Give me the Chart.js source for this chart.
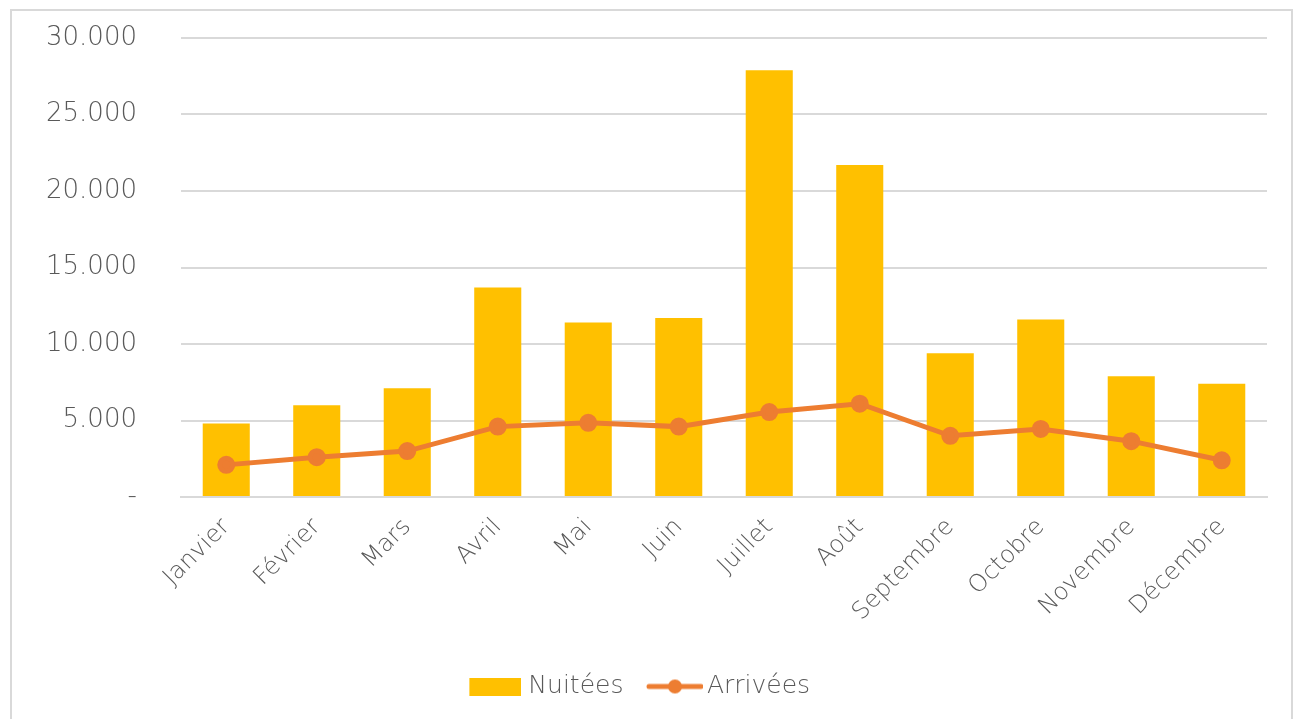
<!DOCTYPE html>
<html>
<head>
<meta charset="utf-8">
<script src="https://cdn.jsdelivr.net/npm/chart.js@4.4.1/dist/chart.umd.min.js"></script>
<style>
  html, body { margin: 0; padding: 0; background: #fff; }
  #frame { position: absolute; left: 10px; top: 9px; width: 1283px; height: 720px; border: 2px solid #d9d9d9; box-sizing: border-box; }
  #wrap { position: absolute; left: 0; top: 0; width: 1296px; height: 719px; }
</style>
</head>
<body>
<div id="frame"></div>
<div id="wrap"><canvas id="chart"></canvas></div>
<script>
// months
const months = ['Janvier', 'Février', 'Mars', 'Avril', 'Mai', 'Juin', 'Juillet', 'Août', 'Septembre', 'Octobre', 'Novembre', 'Décembre'];
// nights (bars)
const nuitees = [4800, 6000, 7100, 13700, 11400, 11700, 27900, 21700, 9400, 11600, 7900, 7400];
// arrivals (line)
const arrivees = [2100, 2600, 3000, 4600, 4850, 4600, 5550, 6100, 4000, 4450, 3650, 2400];

const textColor = '#595959';
const fontFamily = '"DejaVu Sans", sans-serif';

// legend icons (transparent margin on the left so they sit close to their text)
const barIcon = document.createElement('canvas');
barIcon.width = 70; barIcon.height = 18;
let c = barIcon.getContext('2d');
c.fillStyle = '#FFC000';
c.fillRect(18, 0, 52, 18);

const lineIcon = document.createElement('canvas');
lineIcon.width = 76; lineIcon.height = 16;
c = lineIcon.getContext('2d');
c.strokeStyle = '#ED7D31';
c.lineWidth = 5;
c.lineCap = 'round';
c.beginPath(); c.moveTo(22, 8); c.lineTo(74, 8); c.stroke();
c.fillStyle = '#ED7D31';
c.beginPath(); c.arc(48, 8, 7, 0, Math.PI * 2); c.fill();

new Chart(document.getElementById('chart'), {
    data: {
        labels: months,
        datasets: [
            {
                type: 'line',
                label: 'Arrivées',
                data: arrivees,
                borderColor: '#ED7D31',
                backgroundColor: '#ED7D31',
                borderWidth: 5,
                pointRadius: 6.5,
                pointHoverRadius: 6.5,
                pointStyle: 'circle',
                tension: 0,
                order: 0
            },
            {
                type: 'bar',
                label: 'Nuitées',
                data: nuitees,
                backgroundColor: '#FFC000',
                barPercentage: 0.52,
                categoryPercentage: 1,
                order: 1
            }
        ]
    },
    options: {
        responsive: true,
        maintainAspectRatio: false,
        animation: false,
        layout: { padding: { top: 38, right: 29, bottom: 10, left: 0 } },
        plugins: {
            tooltip: { enabled: false },
            legend: {
                position: 'bottom',
                reverse: true,
                labels: {
                    color: textColor,
                    font: { family: fontFamily, size: 25, weight: 200 },
                    usePointStyle: true,
                    pointStyleWidth: 59,
                    padding: 12,
                    generateLabels: chart => chart.data.datasets.map((ds, i) => ({
                        text: ds.label,
                        pointStyle: ds.type === 'bar' ? barIcon : lineIcon,
                        fontColor: textColor,
                        lineWidth: 0,
                        datasetIndex: i,
                        hidden: false
                    }))
                }
            }
        },
        scales: {
            x: {
                grid: { display: false },
                border: { display: true, color: '#d9d9d9', width: 2 },
                ticks: {
                    color: textColor,
                    font: { family: fontFamily, size: 24, weight: 200 },
                    maxRotation: 45,
                    minRotation: 45,
                    padding: 8
                },
                afterFit: scale => { scale.height = 165; }
            },
            y: {
                min: 0,
                max: 30000,
                grid: { color: '#d9d9d9', lineWidth: 2, drawTicks: true, tickLength: 44, tickColor: 'rgba(0,0,0,0)' },
                border: { display: false },
                ticks: {
                    stepSize: 5000,
                    color: textColor,
                    padding: 0,
                    font: { family: fontFamily, size: 26, weight: 200 },
                    callback: v => v === 0 ? '-' : v.toLocaleString('de-DE')
                },
                afterFit: scale => { scale.width = 181; }
            }
        }
    }
});
</script>
</body>
</html>
